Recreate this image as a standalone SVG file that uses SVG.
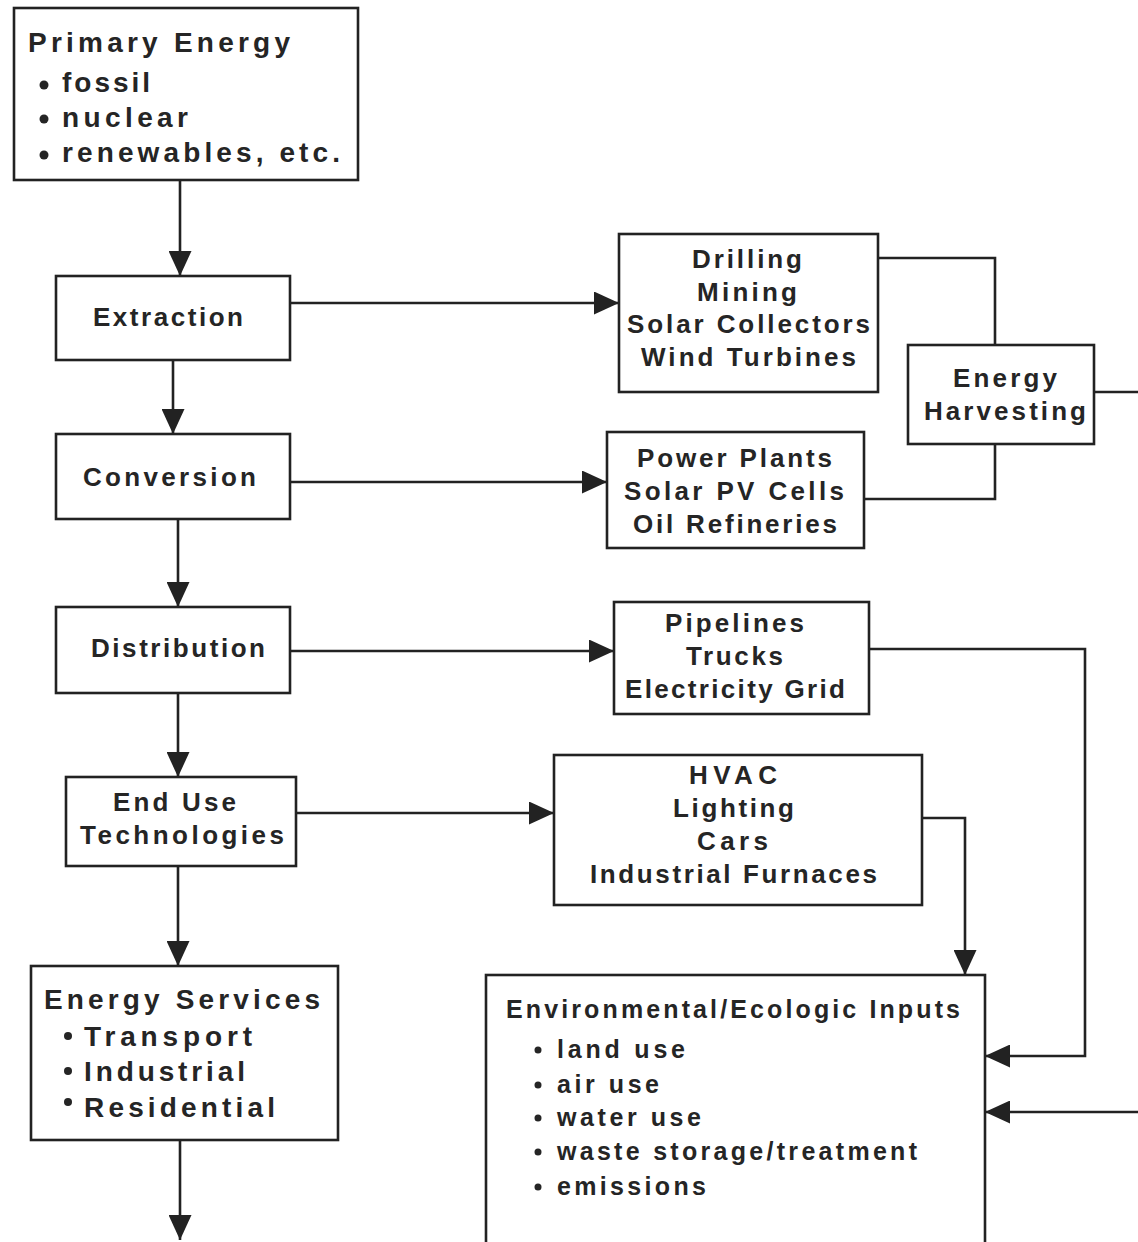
<svg xmlns="http://www.w3.org/2000/svg" width="1138" height="1242" viewBox="0 0 1138 1242">
<style>
.box{fill:#fff;stroke:#222;stroke-width:2.6}
.ln{fill:none;stroke:#222;stroke-width:2.6}
text{font-family:"Liberation Sans",Arial,sans-serif;font-weight:bold;fill:#252525}
.t27{font-size:28px}
.t25{font-size:26px}
.t24{font-size:25px}
.c{text-anchor:middle}
.dot{fill:#252525}
</style>
<defs>
<marker id="ah" viewBox="0 0 25 23" refX="25" refY="11.5" markerWidth="25" markerHeight="23" markerUnits="userSpaceOnUse" orient="auto">
<path d="M0,0 L25,11.5 L0,23 Z" fill="#222"/>
</marker>
</defs>
<rect width="1138" height="1242" fill="#fff"/>

<g id="connectors">
<path class="ln" d="M180,180 V276" marker-end="url(#ah)"/>
<path class="ln" d="M290,303 H619" marker-end="url(#ah)"/>
<path class="ln" d="M173,360 V434" marker-end="url(#ah)"/>
<path class="ln" d="M290,482 H607" marker-end="url(#ah)"/>
<path class="ln" d="M178,519 V607" marker-end="url(#ah)"/>
<path class="ln" d="M290,651 H614" marker-end="url(#ah)"/>
<path class="ln" d="M178,693 V777" marker-end="url(#ah)"/>
<path class="ln" d="M296,813 H554" marker-end="url(#ah)"/>
<path class="ln" d="M178,866 V966" marker-end="url(#ah)"/>
<path class="ln" d="M180,1140 V1240" marker-end="url(#ah)"/>
<path class="ln" d="M878,258 H995 V345"/>
<path class="ln" d="M864,499 H995 V444"/>
<path class="ln" d="M1094,392 H1150 V1112 H985" marker-end="url(#ah)"/>
<path class="ln" d="M869,649 H1085 V1056 H985" marker-end="url(#ah)"/>
<path class="ln" d="M922,818 H965 V975" marker-end="url(#ah)"/>
</g>

<g id="primary-energy">
<rect class="box" x="14" y="8" width="344" height="172"/>
<text class="t27" x="28" y="52" textLength="262">Primary Energy</text>
<circle class="dot" cx="44" cy="85" r="4.5"/>
<text class="t27" x="62" y="92" textLength="88">fossil</text>
<circle class="dot" cx="44" cy="119" r="4.5"/>
<text class="t27" x="62" y="127" textLength="126">nuclear</text>
<circle class="dot" cx="44" cy="155" r="4.5"/>
<text class="t27" x="62" y="162" textLength="278">renewables, etc.</text>
</g>

<g id="extraction">
<rect class="box" x="56" y="276" width="234" height="84"/>
<text class="t25 c" x="168" y="326" textLength="150">Extraction</text>
</g>

<g id="conversion">
<rect class="box" x="56" y="434" width="234" height="85"/>
<text class="t25 c" x="169.5" y="486" textLength="173">Conversion</text>
</g>

<g id="distribution">
<rect class="box" x="56" y="607" width="234" height="86"/>
<text class="t25 c" x="178" y="657" textLength="174">Distribution</text>
</g>

<g id="end-use">
<rect class="box" x="66" y="777" width="230" height="89"/>
<text class="t25 c" x="174.5" y="811" textLength="123">End Use</text>
<text class="t25 c" x="182" y="844" textLength="204">Technologies</text>
</g>

<g id="energy-services">
<rect class="box" x="31" y="966" width="307" height="174"/>
<text class="t27" x="44" y="1009" textLength="276">Energy Services</text>
<circle class="dot" cx="68" cy="1036" r="4"/>
<text class="t27" x="84" y="1046" textLength="168">Transport</text>
<circle class="dot" cx="68" cy="1071" r="4"/>
<text class="t27" x="84" y="1081" textLength="161">Industrial</text>
<circle class="dot" cx="68" cy="1102" r="4"/>
<text class="t27" x="84" y="1117" textLength="191">Residential</text>
</g>

<g id="extraction-tech">
<rect class="box" x="619" y="234" width="259" height="158"/>
<text class="t25 c" x="747" y="268" textLength="110">Drilling</text>
<text class="t25 c" x="747" y="301" textLength="100">Mining</text>
<text class="t25 c" x="748.5" y="333" textLength="243">Solar Collectors</text>
<text class="t25 c" x="748.5" y="366" textLength="215">Wind Turbines</text>
</g>

<g id="conversion-tech">
<rect class="box" x="607" y="432" width="257" height="116"/>
<text class="t25 c" x="734.5" y="467" textLength="195">Power Plants</text>
<text class="t25 c" x="734" y="500" textLength="220">Solar PV Cells</text>
<text class="t25 c" x="735" y="533" textLength="204">Oil Refineries</text>
</g>

<g id="energy-harvesting">
<rect class="box" x="908" y="345" width="186" height="99"/>
<text class="t25 c" x="1005" y="387" textLength="104">Energy</text>
<text class="t25 c" x="1005" y="420" textLength="162">Harvesting</text>
</g>

<g id="distribution-tech">
<rect class="box" x="614" y="602" width="255" height="112"/>
<text class="t25 c" x="734.5" y="632" textLength="139">Pipelines</text>
<text class="t25 c" x="734.5" y="665" textLength="97">Trucks</text>
<text class="t25 c" x="735" y="698" textLength="220">Electricity Grid</text>
</g>

<g id="end-use-tech">
<rect class="box" x="554" y="755" width="368" height="150"/>
<text class="t25 c" x="733" y="784" textLength="88">HVAC</text>
<text class="t25 c" x="733.5" y="817" textLength="121">Lighting</text>
<text class="t25 c" x="732.5" y="850" textLength="71">Cars</text>
<text class="t25 c" x="733.5" y="883" textLength="287">Industrial Furnaces</text>
</g>

<g id="environmental-inputs">
<rect class="box" x="486" y="975" width="499" height="290"/>
<text class="t24" x="506" y="1018" textLength="454">Environmental/Ecologic Inputs</text>
<circle class="dot" cx="538" cy="1050" r="3.5"/>
<text class="t24" x="557" y="1058" textLength="128">land use</text>
<circle class="dot" cx="538" cy="1085" r="3.5"/>
<text class="t24" x="557" y="1093" textLength="102">air use</text>
<circle class="dot" cx="538" cy="1118" r="3.5"/>
<text class="t24" x="557" y="1126" textLength="144">water use</text>
<circle class="dot" cx="538" cy="1152" r="3.5"/>
<text class="t24" x="557" y="1160" textLength="360">waste storage/treatment</text>
<circle class="dot" cx="538" cy="1187" r="3.5"/>
<text class="t24" x="557" y="1195" textLength="149">emissions</text>
</g>
</svg>
